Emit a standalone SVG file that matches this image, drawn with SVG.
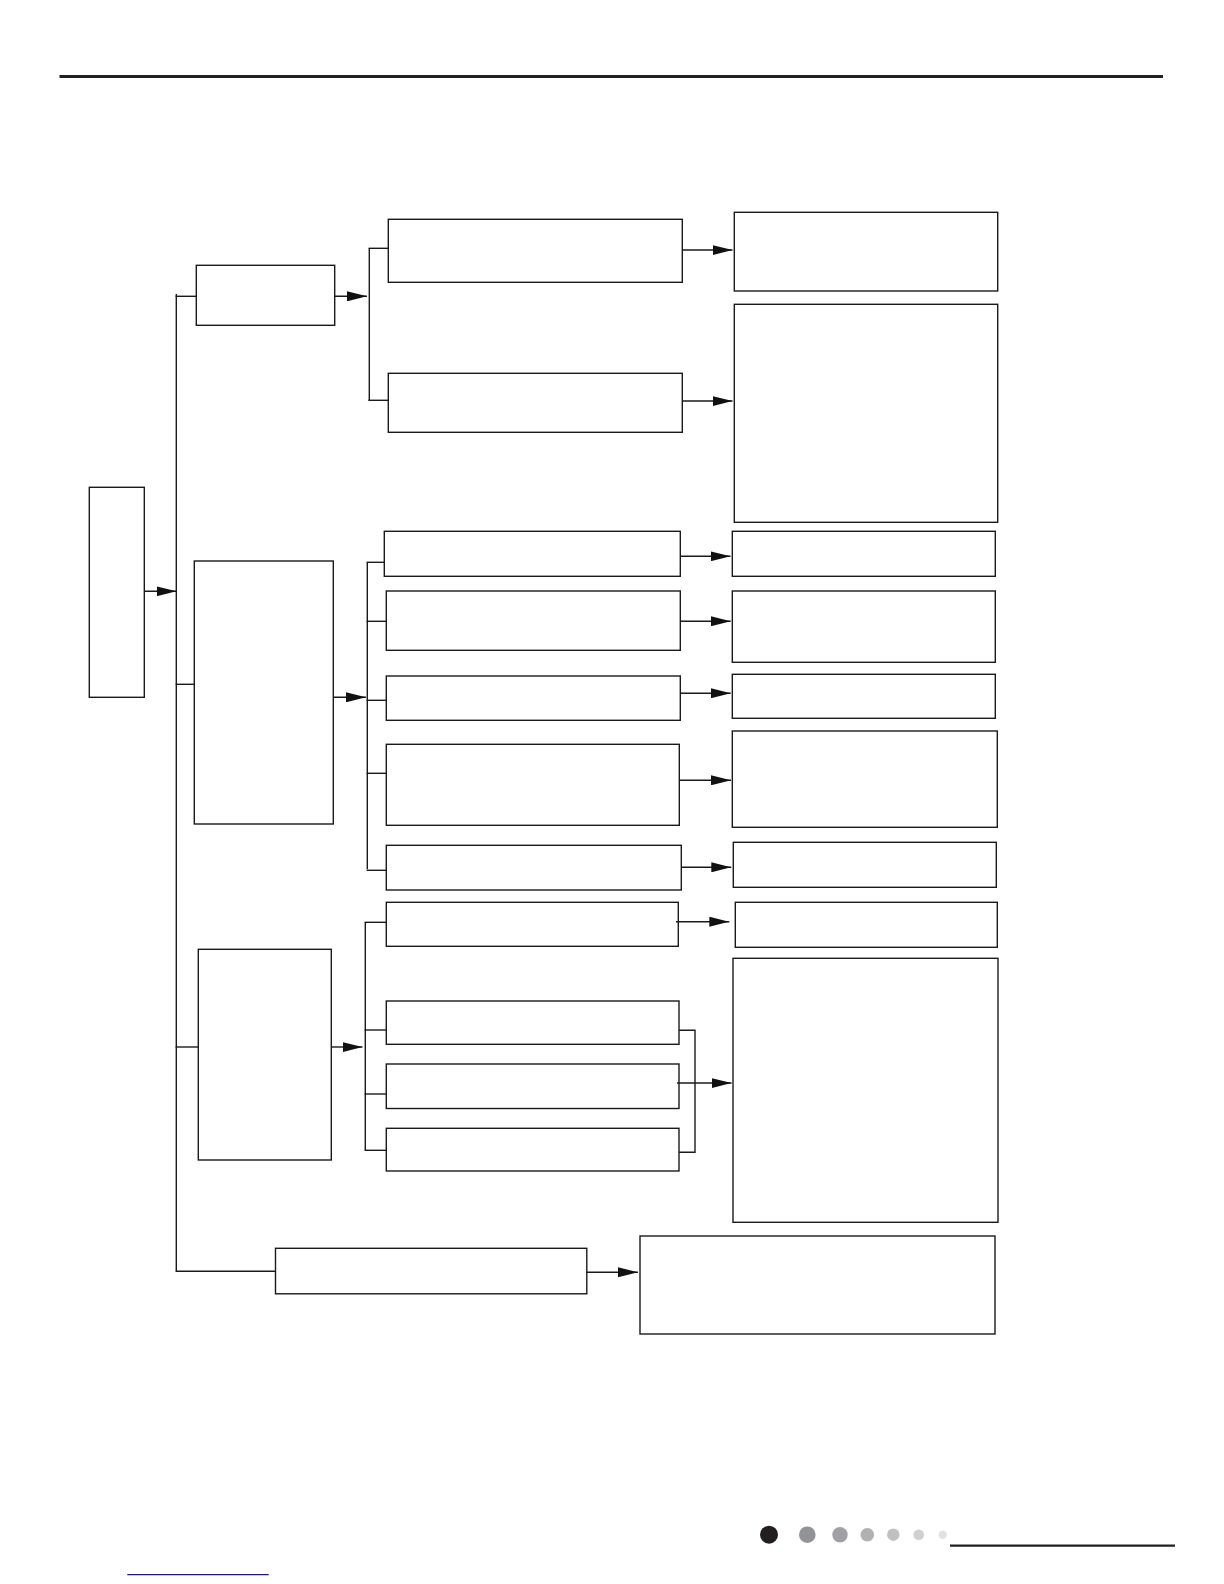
<svg xmlns="http://www.w3.org/2000/svg" width="1224" height="1584" viewBox="0 0 1224 1584">
<style>
.box{fill:#ffffff;stroke:#1a1a1a;stroke-width:1.4}
.ln{fill:none;stroke:#1a1a1a;stroke-width:1.4}
.arr{fill:none;stroke:#1a1a1a;stroke-width:1.4;marker-end:url(#ah)}
</style>
<defs>
<marker id="ah" markerUnits="userSpaceOnUse" markerWidth="20" markerHeight="10" refX="20" refY="5" orient="auto">
<path d="M0,0 L20,5 L0,10 z" fill="#111111"/>
</marker>
</defs>
<rect width="1224" height="1584" fill="#ffffff"/>
<!-- page decorations -->
<line x1="59.5" y1="76.5" x2="1163" y2="76.5" stroke="#231f20" stroke-width="3"/>
<g id="dots">
<circle cx="769" cy="1534.7" r="9" fill="#231f20"/>
<circle cx="807.3" cy="1534.7" r="8.3" fill="#929396"/>
<circle cx="840" cy="1534.7" r="7.7" fill="#a0a1a4"/>
<circle cx="867.3" cy="1534.7" r="6.8" fill="#b0b1b3"/>
<circle cx="893.3" cy="1534.7" r="6.2" fill="#bfc0c2"/>
<circle cx="918.7" cy="1534.7" r="5.3" fill="#d0d0d2"/>
<circle cx="942.7" cy="1534.7" r="4.2" fill="#e2e2e4"/>
</g>
<line x1="950" y1="1545.7" x2="1175" y2="1545.7" stroke="#231f20" stroke-width="2.2"/>
<line x1="127.3" y1="1574.7" x2="268.7" y2="1574.7" stroke="#1a1a8c" stroke-width="1.3"/>

<!-- nodes -->
<g id="n-main"><rect class="box" x="89.3" y="487.3" width="55" height="210"/></g>
<g id="n-a"><rect class="box" x="196.3" y="265.3" width="138.4" height="60"/></g>
<g id="n-d"><rect class="box" x="194.3" y="561" width="139" height="263"/></g>
<g id="n-i"><rect class="box" x="198.3" y="949.3" width="133" height="210.7"/></g>
<g id="n-k"><rect class="box" x="275.5" y="1248.3" width="311.3" height="45.5"/></g>

<g id="n-b1"><rect class="box" x="388.3" y="219.3" width="294" height="63"/></g>
<g id="n-b2"><rect class="box" x="388.3" y="373.3" width="294" height="59"/></g>

<g id="n-e1"><rect class="box" x="384.3" y="531.3" width="296" height="45"/></g>
<g id="n-e2"><rect class="box" x="386.3" y="591" width="294" height="59.3"/></g>
<g id="n-e3"><rect class="box" x="386.3" y="676" width="294" height="44.3"/></g>
<g id="n-e4"><rect class="box" x="386.3" y="744.3" width="293" height="81"/></g>
<g id="n-e5"><rect class="box" x="386.3" y="845.3" width="295" height="44.7"/></g>

<g id="n-g1"><rect class="box" x="386.3" y="902.3" width="292" height="44"/></g>
<g id="n-g2"><rect class="box" x="386.3" y="1001" width="292.7" height="43.3"/></g>
<g id="n-g3"><rect class="box" x="386.3" y="1064" width="292.7" height="44.5"/></g>
<g id="n-g4"><rect class="box" x="386.3" y="1128.3" width="292.7" height="42.7"/></g>

<g id="n-c1"><rect class="box" x="734.3" y="212.3" width="263.4" height="78.7"/></g>
<g id="n-c2"><rect class="box" x="734.3" y="304.3" width="263.4" height="218"/></g>
<g id="n-f1"><rect class="box" x="732.3" y="531.3" width="263" height="45"/></g>
<g id="n-f2"><rect class="box" x="732.3" y="591" width="263" height="71.3"/></g>
<g id="n-f3"><rect class="box" x="732.3" y="674.3" width="263" height="44"/></g>
<g id="n-f4"><rect class="box" x="732.3" y="731" width="265" height="96.3"/></g>
<g id="n-f5"><rect class="box" x="733.3" y="842.3" width="263" height="45"/></g>
<g id="n-f6"><rect class="box" x="735.3" y="902.3" width="262" height="45"/></g>
<g id="n-h2"><rect class="box" x="733" y="958.3" width="265" height="264"/></g>
<g id="n-l"><rect class="box" x="640" y="1236" width="355" height="98"/></g>

<!-- connectors -->
<g id="connectors">
<line class="arr" x1="144.3" y1="591.3" x2="176.5" y2="591.3"/>
<line class="ln" x1="176.3" y1="294" x2="176.3" y2="1271.3"/>
<line class="ln" x1="175.6" y1="296.3" x2="196.3" y2="296.3"/>
<line class="ln" x1="175.6" y1="684.3" x2="194.3" y2="684.3"/>
<line class="ln" x1="175.6" y1="1047" x2="198.3" y2="1047"/>
<line class="ln" x1="175.6" y1="1271.3" x2="275.5" y2="1271.3"/>

<line class="arr" x1="334.7" y1="296.3" x2="367" y2="296.3"/>
<line class="ln" x1="369.3" y1="248.3" x2="369.3" y2="400.3"/>
<line class="ln" x1="368.6" y1="248.3" x2="388.3" y2="248.3"/>
<line class="ln" x1="368.3" y1="400.3" x2="388.3" y2="400.3"/>
<line class="arr" x1="682.3" y1="250" x2="732.5" y2="250"/>
<line class="arr" x1="682.3" y1="401" x2="732.5" y2="401"/>

<line class="arr" x1="333.3" y1="697.3" x2="366" y2="697.3"/>
<line class="ln" x1="367.3" y1="562.3" x2="367.3" y2="869.3"/>
<line class="ln" x1="366.6" y1="562.3" x2="384.3" y2="562.3"/>
<line class="ln" x1="366.6" y1="621.3" x2="386.3" y2="621.3"/>
<line class="ln" x1="366.6" y1="700.3" x2="386.3" y2="700.3"/>
<line class="ln" x1="366.6" y1="773.3" x2="386.3" y2="773.3"/>
<line class="ln" x1="366.6" y1="870.3" x2="386.3" y2="870.3"/>
<line class="arr" x1="680.3" y1="556.3" x2="730.5" y2="556.3"/>
<line class="arr" x1="680.3" y1="621.3" x2="730.7" y2="621.3"/>
<line class="arr" x1="680.3" y1="693.3" x2="730.7" y2="693.3"/>
<line class="arr" x1="679.3" y1="780.3" x2="731" y2="780.3"/>
<line class="arr" x1="681.3" y1="867.3" x2="731.3" y2="867.3"/>

<line class="arr" x1="331.3" y1="1047" x2="362.5" y2="1047"/>
<line class="ln" x1="365.3" y1="922.3" x2="365.3" y2="1150.3"/>
<line class="ln" x1="364.6" y1="922.3" x2="386.3" y2="922.3"/>
<line class="ln" x1="364.6" y1="1030" x2="386.3" y2="1030"/>
<line class="ln" x1="364.6" y1="1094" x2="386.3" y2="1094"/>
<line class="ln" x1="364.6" y1="1150.3" x2="386.3" y2="1150.3"/>
<line class="arr" x1="676" y1="921.7" x2="729.3" y2="921.7"/>
<polyline class="ln" points="679,1030.3 695,1030.3 695,1152.3 679,1152.3"/>
<line class="arr" x1="677" y1="1083" x2="731.5" y2="1083"/>

<line class="arr" x1="586.8" y1="1272.3" x2="638" y2="1272.3"/>
</g>
</svg>
